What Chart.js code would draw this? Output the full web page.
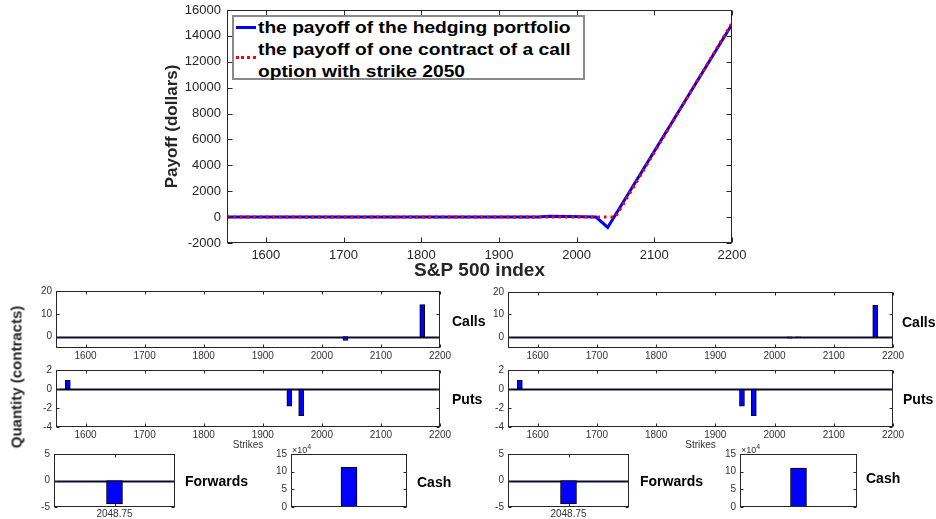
<!DOCTYPE html>
<html lang="en">
<head>
<meta charset="UTF-8">
<title>Hedging portfolio payoff</title>
<script src="https://cdn.jsdelivr.net/npm/chart.js"></script>
<style>
  body { margin: 0; width: 936px; height: 519px; overflow: hidden; background: #fff; position: relative;
         font-family: "Liberation Sans", Arial, Helvetica, sans-serif; }
  canvas { position: absolute; }
  .lbl { position: absolute; font-weight: bold; font-size: 14px; line-height: 1; color: #000;
         transform: translateY(-50%); white-space: nowrap; }
  .exp { position: absolute; font-size: 9px; color: #333; line-height: 1; transform: translateY(-50%); }
  .exp sup { font-size: 7px; }
  #legend { position: absolute; left: 232px; top: 15px; width: 349px; height: 61px; border: 2px solid #8a8a8a;
            background: #fff; font-weight: bold; font-size: 16px; color: #000; }
  #legend .txt { position: absolute; left: 24px; line-height: 1; white-space: nowrap;
                 transform: translateY(-50%) scaleX(1.2); transform-origin: left center; }
  #legend .swatch { position: absolute; left: 2px; width: 20px; height: 0; }
  #ylab { position: absolute; left: 16px; top: 377px; transform: translate(-50%, -50%) rotate(-90deg);
          font-size: 15px; font-weight: bold; color: #262626; white-space: nowrap; }
</style>
</head>
<body>
<canvas id="payoff"></canvas>
<canvas id="callsL"></canvas>
<canvas id="putsL"></canvas>
<canvas id="fwdL"></canvas>
<canvas id="cashL"></canvas>
<canvas id="callsR"></canvas>
<canvas id="putsR"></canvas>
<canvas id="fwdR"></canvas>
<canvas id="cashR"></canvas>

<div id="legend">
  <span class="swatch" style="top:9px;border-top:3px solid #0000ff"></span>
  <span class="txt" style="top:11px">the payoff of the hedging portfolio</span>
  <span class="swatch" style="top:39px;border-top:3px dotted #ff0000"></span>
  <span class="txt" style="top:33px">the payoff of one contract of a call</span>
  <span class="txt" style="top:55px">option with strike 2050</span>
</div>

<div id="ylab">Quantity (contracts)</div>
<div class="lbl" style="left:452px;top:321px">Calls</div>
<div class="lbl" style="left:452px;top:399px">Puts</div>
<div class="lbl" style="left:902px;top:322px">Calls</div>
<div class="lbl" style="left:903px;top:399px">Puts</div>
<div class="lbl" style="left:185px;top:481px">Forwards</div>
<div class="lbl" style="left:417px;top:482px">Cash</div>
<div class="lbl" style="left:640px;top:481px">Forwards</div>
<div class="lbl" style="left:866px;top:478px">Cash</div>
<div class="exp" style="left:292px;top:449px">&times;10<sup>4</sup></div>
<div class="exp" style="left:741px;top:449px">&times;10<sup>4</sup></div>

<script>
// payoff at expiry vs. index level
const hedgeX = [1550, 1950, 1965, 1990, 2025, 2040, 2200];
const hedgeY = [0, 0, 60, 40, 0, -800, 14900];
const callX = [1550, 2050, 2200];
const callY = [0, 0, 15000];
const payoffXTicks = [1600, 1700, 1800, 1900, 2000, 2100, 2200];
const payoffYTicks = [-2000, 0, 2000, 4000, 6000, 8000, 10000, 12000, 14000, 16000];

// positions (contracts) per strike, left and right solutions
const callStrikesL = [2040, 2170];
const callQtyL = [-1.7, 14];
const callStrikesR = [2025, 2040, 2170];
const callQtyR = [-0.6, -0.4, 14];
const putStrikesL = [1570, 1945, 1965];
const putQtyL = [0.9, -1.8, -2.8];
const putStrikesR = [1570, 1945, 1965];
const putQtyR = [0.9, -1.8, -2.8];
const forwardLabels = ['2048.75'];
const forwardQtyL = [-4.4];
const forwardQtyR = [-4.4];
const cashL = [112000];
const cashR = [110000];

const strikeTicks = [1600, 1700, 1800, 1900, 2000, 2100, 2200];
const callYTicks = [0, 10, 20];
const putYTicks = [-4, -2, 0, 2];
const fwdYTicks = [-5, 0, 5];
const cashYTicks = [0, 50000, 100000, 150000];

const FONT = '"Liberation Sans", Arial, Helvetica, sans-serif';
Chart.defaults.font.family = FONT;
Chart.defaults.animation = false;

// matlab-like box with inward ticks + optional zero line
const boxTicks = {
  id: 'boxTicks',
  defaults: { len: 5, color: '#262626', zero: false, xTicks: true },
  beforeDatasetsDraw(chart, args, o) {
    if (!o.zero) return;
    const { ctx, chartArea: a } = chart;
    const y = Math.round(chart.scales.y.getPixelForValue(0)) + 0.5;
    ctx.save();
    ctx.strokeStyle = '#0a0a30';
    ctx.lineWidth = 2;
    ctx.beginPath(); ctx.moveTo(a.left, y); ctx.lineTo(a.right, y); ctx.stroke();
    ctx.restore();
  },
  afterDraw(chart, args, o) {
    const { ctx, chartArea: a, scales: { x, y } } = chart;
    const L = Math.round(a.left) + 0.5, R = Math.round(a.right) - 0.5;
    const T = Math.round(a.top) + 0.5, B = Math.round(a.bottom) - 0.5;
    ctx.save();
    ctx.strokeStyle = o.color;
    ctx.lineWidth = 1;
    ctx.strokeRect(L, T, R - L, B - T);
    ctx.beginPath();
    if (o.xTicks) {
      x.ticks.forEach((t, i) => {
        const px = Math.round(x.getPixelForTick(i)) + 0.5;
        ctx.moveTo(px, B); ctx.lineTo(px, B - o.len);
        ctx.moveTo(px, T); ctx.lineTo(px, T + o.len);
      });
    }
    y.ticks.forEach((t, i) => {
      const py = Math.round(y.getPixelForTick(i)) + 0.5;
      ctx.moveTo(L, py); ctx.lineTo(L + o.len, py);
      ctx.moveTo(R, py); ctx.lineTo(R - o.len, py);
    });
    ctx.stroke();
    ctx.restore();
  }
};
Chart.register(boxTicks);

// put a canvas so that its plot area lands on box = [left, top, right, bottom]
function place(id, box, m) {
  const c = document.getElementById(id);
  c.width = box[2] - box[0] + m.l + m.r;
  c.height = box[3] - box[1] + m.t + m.b;
  c.style.left = (box[0] - m.l) + 'px';
  c.style.top = (box[1] - m.t) + 'px';
  return c;
}
const fixW = w => s => { s.width = w; s.paddingTop = 0; s.paddingBottom = 0; };
const fixH = h => s => { s.height = h; s.paddingLeft = 0; s.paddingRight = 0; };
const useTicks = arr => s => { s.ticks = arr.map(v => ({ value: v })); };
const pts = (xs, ys) => xs.map((x, i) => ({ x, y: ys[i] }));
const plain = v => String(v);

// ---- main payoff chart ----
const mm = { l: 77, t: 10, r: 18, b: 47 };
new Chart(place('payoff', [227, 10, 732, 243], mm), {
  type: 'scatter',
  data: {
    datasets: [
      { label: 'the payoff of one contract of a call option with strike 2050', data: pts(callX, callY),
        showLine: true, borderColor: '#ff0000', borderWidth: 3, borderDash: [2.5, 4], pointRadius: 0 },
      { label: 'the payoff of the hedging portfolio', data: pts(hedgeX, hedgeY),
        showLine: true, borderColor: '#0000ff', borderWidth: 3, pointRadius: 0 }
    ]
  },
  options: {
    responsive: false,
    layout: { padding: { top: mm.t, right: mm.r, left: 0, bottom: 0 } },
    plugins: { legend: { display: false }, tooltip: { enabled: false }, boxTicks: { len: 5 } },
    scales: {
      x: {
        type: 'linear', min: 1550, max: 2200,
        afterFit: fixH(mm.b), afterBuildTicks: useTicks(payoffXTicks),
        grid: { display: false, drawTicks: false }, border: { display: false },
        ticks: { padding: 5, color: '#262626', font: { size: 13 }, callback: plain },
        title: { display: true, text: 'S&P 500 index', color: '#262626',
                 font: { size: 19, weight: 'bold' }, padding: { top: 0, bottom: 8 } }
      },
      y: {
        min: -2000, max: 16000,
        afterFit: fixW(mm.l), afterBuildTicks: useTicks(payoffYTicks),
        grid: { display: false, drawTicks: false }, border: { display: false },
        ticks: { padding: 6, color: '#262626', font: { size: 13 }, callback: plain },
        title: { display: true, text: 'Payoff (dollars)', color: '#262626',
                 font: { size: 17, weight: 'bold' }, padding: { top: 12, bottom: 0 } }
      }
    }
  }
});

// ---- lower panels ----
const subTick = { color: '#333', font: { size: 10 } };

function strikeChart(id, box, xs, ys, yMin, yMax, yTicks, withTitle) {
  const m = { l: 40, t: 6, r: 20, b: withTitle ? 28 : 16 };
  return new Chart(place(id, box, m), {
    type: 'bar',
    data: { datasets: [{ data: pts(xs, ys), backgroundColor: '#0000ff', borderColor: '#000',
                         borderWidth: 1, borderSkipped: false, barThickness: 5 }] },
    options: {
      responsive: false,
      layout: { padding: { top: m.t, right: m.r, left: 0, bottom: 0 } },
      plugins: { legend: { display: false }, tooltip: { enabled: false }, boxTicks: { len: 3, zero: true } },
      scales: {
        x: {
          type: 'linear', min: 1550, max: 2200, offset: false,
          afterFit: fixH(m.b), afterBuildTicks: useTicks(strikeTicks),
          grid: { display: false, drawTicks: false }, border: { display: false },
          ticks: Object.assign({ padding: 2, callback: plain }, subTick),
          title: { display: withTitle, text: 'Strikes', color: '#333', font: { size: 10 },
                   padding: { top: 0, bottom: 4 } }
        },
        y: {
          min: yMin, max: yMax,
          afterFit: fixW(m.l), afterBuildTicks: useTicks(yTicks),
          grid: { display: false, drawTicks: false }, border: { display: false },
          ticks: Object.assign({ padding: 4, callback: plain }, subTick)
        }
      }
    }
  });
}

function singleBar(id, box, labels, vals, yMin, yMax, yTicks, cash) {
  const m = cash ? { l: 30, t: 8, r: 6, b: 4 } : { l: 40, t: 6, r: 6, b: 14 };
  return new Chart(place(id, box, m), {
    type: 'bar',
    data: { labels: labels, datasets: [{ data: vals, backgroundColor: '#0000ff', borderColor: '#000',
                                         borderWidth: 1, borderSkipped: false, barThickness: 16 }] },
    options: {
      responsive: false,
      layout: { padding: { top: m.t, right: m.r, left: 0, bottom: 0 } },
      plugins: { legend: { display: false }, tooltip: { enabled: false },
                 boxTicks: { len: 3, zero: !cash, xTicks: !cash } },
      scales: {
        x: {
          afterFit: fixH(m.b),
          grid: { display: false, drawTicks: false }, border: { display: false },
          ticks: Object.assign({ display: !cash, padding: 1 }, subTick)
        },
        y: {
          min: yMin, max: yMax,
          afterFit: fixW(m.l), afterBuildTicks: useTicks(yTicks),
          grid: { display: false, drawTicks: false }, border: { display: false },
          ticks: Object.assign({ padding: 4, callback: v => String(cash ? v / 10000 : v) }, subTick)
        }
      }
    }
  });
}

strikeChart('callsL', [56, 291, 440, 348], callStrikesL, callQtyL, -5, 20, callYTicks, false);
strikeChart('putsL', [56, 370, 440, 427], putStrikesL, putQtyL, -4, 2, putYTicks, true);
strikeChart('callsR', [508, 292, 893, 348], callStrikesR, callQtyR, -5, 20, callYTicks, false);
strikeChart('putsR', [508, 370, 893, 427], putStrikesR, putQtyR, -4, 2, putYTicks, true);

singleBar('fwdL', [54, 454, 175, 507], forwardLabels, forwardQtyL, -5, 5, fwdYTicks, false);
singleBar('cashL', [291, 454, 407, 507], [''], cashL, 0, 150000, cashYTicks, true);
singleBar('fwdR', [508, 454, 629, 507], forwardLabels, forwardQtyR, -5, 5, fwdYTicks, false);
singleBar('cashR', [740, 454, 857, 507], [''], cashR, 0, 150000, cashYTicks, true);
</script>
</body>
</html>
